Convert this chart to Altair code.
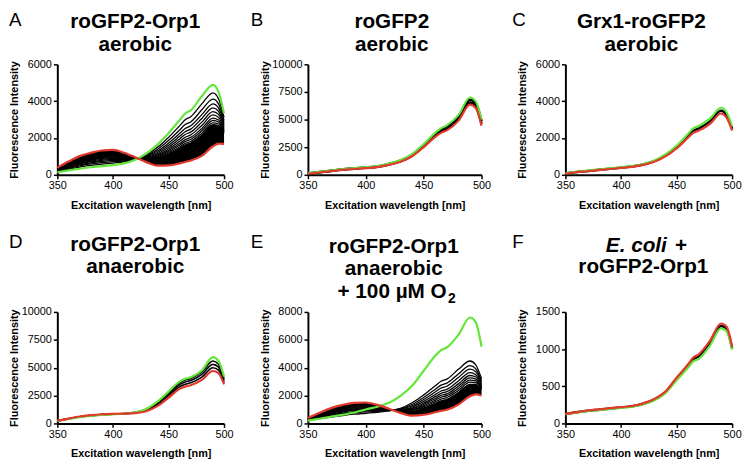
import altair as alt
import pandas as pd

# ---------------- data ----------------
WL = [350, 360, 370, 380, 390, 400, 410, 420, 430, 440, 450, 460, 465, 470, 480, 490, 495, 500]
XTICKS = [350, 400, 450, 500]

# A: roGFP2-Orp1 aerobic
A_green = [140, 240, 330, 410, 470, 530, 620, 820, 1150, 1640, 2260, 2970, 3330, 3500, 4270, 4880, 4500, 3330]
A_red = [390, 720, 1015, 1190, 1320, 1350, 1200, 960, 690, 500, 510, 620, 700, 780, 1030, 1550, 1690, 1680]
A_black = [
    [170, 300, 420, 510, 580, 640, 700, 840, 1090, 1490, 2030, 2660, 2990, 3150, 3850, 4450, 4130, 3120],
    [200, 350, 490, 590, 665, 720, 750, 850, 1040, 1380, 1860, 2430, 2730, 2870, 3530, 4110, 3850, 2950],
    [220, 390, 540, 650, 730, 780, 800, 860, 1010, 1290, 1720, 2240, 2510, 2660, 3270, 3850, 3630, 2820],
    [230, 420, 590, 700, 790, 840, 840, 870, 980, 1210, 1600, 2090, 2340, 2480, 3060, 3630, 3450, 2710],
    [250, 450, 630, 750, 840, 890, 870, 880, 950, 1140, 1500, 1950, 2190, 2320, 2860, 3430, 3280, 2610],
    [260, 480, 670, 790, 890, 930, 900, 890, 920, 1080, 1400, 1820, 2040, 2170, 2680, 3250, 3120, 2520],
    [280, 500, 700, 830, 930, 970, 930, 900, 900, 1020, 1320, 1700, 1910, 2030, 2520, 3080, 2980, 2440],
    [290, 520, 730, 860, 960, 1010, 960, 900, 880, 980, 1250, 1610, 1800, 1920, 2390, 2950, 2870, 2370],
    [300, 540, 760, 890, 1000, 1040, 980, 910, 860, 930, 1180, 1510, 1700, 1810, 2260, 2820, 2760, 2310],
    [300, 550, 780, 920, 1020, 1060, 1000, 910, 850, 900, 1120, 1440, 1620, 1730, 2160, 2720, 2670, 2260],
]

# B: roGFP2 aerobic
B_green = [150, 270, 390, 510, 600, 690, 790, 1010, 1330, 1880, 2780, 3800, 4200, 4480, 5400, 7000, 6650, 5000]
B_black = [
    [130, 250, 370, 500, 580, 670, 760, 980, 1280, 1820, 2700, 3700, 4090, 4370, 5250, 6800, 6450, 4850],
    [115, 230, 350, 470, 550, 630, 720, 930, 1220, 1740, 2580, 3540, 3910, 4140, 5030, 6550, 6200, 4600],
]
B_red = [100, 210, 330, 450, 530, 610, 700, 900, 1180, 1680, 2500, 3440, 3800, 4020, 4880, 6350, 6050, 4450]

# C: Grx1-roGFP2 aerobic
C_green = [80, 165, 230, 290, 350, 410, 470, 590, 780, 1110, 1580, 2200, 2520, 2650, 3050, 3640, 3400, 2620]
C_black = [[70, 150, 210, 270, 330, 390, 450, 560, 740, 1050, 1500, 2100, 2400, 2520, 2900, 3480, 3250, 2500]]
C_red = [60, 140, 195, 255, 315, 375, 435, 540, 710, 1000, 1430, 2000, 2280, 2400, 2770, 3330, 3110, 2400]

# D: roGFP2-Orp1 anaerobic
D_green = [230, 400, 560, 680, 760, 820, 870, 1000, 1300, 1950, 2850, 3750, 4000, 4150, 4750, 5950, 5600, 4200]
D_black = [
    [230, 410, 570, 690, 770, 830, 870, 990, 1270, 1890, 2770, 3650, 3900, 4040, 4630, 5600, 5300, 4000],
    [230, 415, 590, 710, 790, 840, 875, 970, 1220, 1780, 2620, 3480, 3720, 3850, 4400, 5300, 5050, 3850],
    [230, 420, 600, 725, 805, 850, 878, 950, 1160, 1660, 2460, 3290, 3510, 3640, 4150, 5000, 4780, 3680],
]
D_red = [230, 430, 620, 740, 820, 860, 880, 930, 1100, 1550, 2300, 3100, 3300, 3420, 3900, 4700, 4500, 3500]

# E: roGFP2-Orp1 anaerobic + 100 uM O2
E_green = [200, 340, 480, 620, 780, 1000, 1200, 1480, 1980, 2700, 3780, 4850, 5260, 5450, 6350, 7600, 7250, 5500]
E_red = [380, 760, 1100, 1330, 1480, 1500, 1330, 1060, 760, 560, 620, 800, 900, 980, 1350, 1950, 2080, 2000]
E_black = [
    [220, 340, 460, 570, 660, 730, 800, 900, 1080, 1480, 2050, 2700, 3030, 3180, 3880, 4480, 4200, 3200],
    [240, 390, 540, 670, 770, 830, 870, 920, 1040, 1360, 1860, 2450, 2750, 2890, 3550, 4150, 3920, 3040],
    [260, 440, 610, 740, 850, 910, 920, 940, 1010, 1270, 1720, 2260, 2540, 2670, 3300, 3900, 3710, 2920],
    [270, 480, 670, 820, 930, 980, 980, 950, 970, 1180, 1580, 2070, 2330, 2450, 3050, 3650, 3500, 2800],
    [290, 510, 720, 880, 1000, 1050, 1020, 970, 950, 1100, 1460, 1920, 2160, 2280, 2840, 3440, 3330, 2710],
    [300, 540, 770, 940, 1050, 1100, 1050, 980, 930, 1040, 1360, 1790, 2010, 2120, 2670, 3270, 3180, 2620],
    [310, 570, 810, 980, 1100, 1150, 1090, 990, 910, 980, 1280, 1670, 1880, 1990, 2510, 3110, 3060, 2550],
    [320, 590, 840, 1030, 1150, 1190, 1120, 1000, 890, 930, 1190, 1560, 1750, 1860, 2360, 2960, 2930, 2480],
    [330, 620, 880, 1070, 1200, 1240, 1150, 1010, 870, 870, 1110, 1450, 1620, 1730, 2210, 2810, 2800, 2410],
]

# F: E. coli + roGFP2-Orp1
F_green = [122, 147, 166, 180, 195, 210, 225, 258, 312, 408, 580, 745, 835, 870, 1045, 1280, 1240, 990]
F_black = [[125, 150, 170, 185, 200, 215, 230, 265, 320, 420, 600, 770, 860, 905, 1080, 1310, 1270, 1010]]
F_red = [128, 153, 174, 190, 205, 220, 235, 270, 328, 430, 615, 790, 885, 930, 1110, 1345, 1300, 1030]

Y_TICKS = {
    "A": [0, 2000, 4000, 6000],
    "B": [0, 2500, 5000, 7500, 10000],
    "C": [0, 2000, 4000, 6000],
    "D": [0, 2500, 5000, 7500, 10000],
    "E": [0, 2000, 4000, 6000, 8000],
    "F": [0, 500, 1000, 1500],
}

X_TITLE = "Excitation wavelength [nm]"
Y_TITLE = "Fluorescence Intensity"

# ---------------- styling ----------------
FONT = "Liberation Sans"
GREEN = "#62e639"
RED = "#e3392d"


def long_df(curves):
    rows = []
    for i, c in enumerate(curves):
        for w, v in zip(WL, c):
            rows.append({"wl": w, "v": v, "k": i})
    return pd.DataFrame(rows)


def txt(s, x, y, size, weight="bold", style="normal", align="center"):
    return alt.Chart(alt.Data(values=[{"a": 1}])).mark_text(
        text=s, font=FONT, fontSize=size, fontWeight=weight, fontStyle=style,
        align=align, baseline="alphabetic", color="black"
    ).encode(x=alt.value(x), y=alt.value(y))


def panel(green, blacks, red, ymax, yticks, width, height, texts, fill=None, black_width=1.3):
    xs = alt.Scale(domain=[350, 500], nice=False, zero=False)
    ys = alt.Scale(domain=[0, ymax], nice=False, zero=True)
    xax = alt.Axis(values=XTICKS, format="d", title=X_TITLE, titleY=34,
                   titleBaseline="alphabetic", labelFlush=False, labelOverlap=False)
    yax = alt.Axis(values=yticks, format="d", title=Y_TITLE, titleX=-40, titleY=height / 2,
                   titleBaseline="alphabetic", labelOverlap=False)
    X = alt.X("wl:Q", scale=xs, axis=xax)
    Y = alt.Y("v:Q", scale=ys, axis=yax)
    layers = []
    if fill is not None:
        fd = pd.DataFrame({"wl": WL, "v": red, "v2": fill})
        layers.append(alt.Chart(fd).mark_area(color="black", opacity=1, interpolate="monotone")
                      .encode(x=X, y=Y, y2="v2:Q"))
    layers.append(alt.Chart(long_df(blacks)).mark_line(color="black", strokeWidth=black_width,
                                                       interpolate="monotone")
                  .encode(x=X, y=Y, detail="k:N"))
    layers.append(alt.Chart(pd.DataFrame({"wl": WL, "v": green})).mark_line(
        color=GREEN, strokeWidth=2.2, interpolate="monotone").encode(x=X, y=Y))
    layers.append(alt.Chart(pd.DataFrame({"wl": WL, "v": red})).mark_line(
        color=RED, strokeWidth=2.2, interpolate="monotone").encode(x=X, y=Y))
    layers.extend(texts)
    return alt.layer(*layers).properties(width=width, height=height)


TS = 21  # title font size
LS = 19  # panel letter size

pA = panel(A_green, A_black, A_red, 6000, Y_TICKS["A"], 169, 112, [
    txt("A", -49, -39, LS, weight="normal", align="left"),
    txt("roGFP2-Orp1", 79, -37, TS),
    txt("aerobic", 79, -14, TS),
], fill=A_black[-1])

pB = panel(B_green, B_black, B_red, 10000, Y_TICKS["B"], 176, 112, [
    txt("B", -58, -39, LS, weight="normal", align="left"),
    txt("roGFP2", 85, -37, TS),
    txt("aerobic", 85, -14, TS),
], black_width=2.5)

pC = panel(C_green, C_black, C_red, 6000, Y_TICKS["C"], 169, 112, [
    txt("C", -54, -39, LS, weight="normal", align="left"),
    txt("Grx1-roGFP2", 77, -37, TS),
    txt("aerobic", 77, -14, TS),
], black_width=2.5)

pD = panel(D_green, D_black, D_red, 10000, Y_TICKS["D"], 169, 113, [
    txt("D", -49, -65, LS, weight="normal", align="left"),
    txt("roGFP2-Orp1", 79, -62, TS),
    txt("anaerobic", 79, -39, TS),
], black_width=1.6)

pE = panel(E_green, E_black, E_red, 8000, Y_TICKS["E"], 176, 113, [
    txt("E", -58, -65, LS, weight="normal", align="left"),
    txt("roGFP2-Orp1", 87, -60, TS),
    txt("anaerobic", 87, -37, TS),
    txt("+ 100 µM O", 30, -14, TS, align="left"),
    txt("2", 142, -9, 14, align="left"),
], fill=E_black[-1])

pF = panel(F_green, F_black, F_red, 1500, Y_TICKS["F"], 169, 113, [
    txt("F", -54, -65, LS, weight="normal", align="left"),
    txt("E. coli", 41, -61, TS, style="italic", align="left"),
    txt("+", 111, -61, TS, align="left"),
    txt("roGFP2-Orp1", 79, -39, TS),
], black_width=2.5)

chart = alt.concat(
    pA, pB, pC, pD, pE, pF,
    columns=3,
    spacing={"row": 139, "column": 85},
    bounds="flush",
    align="each",
).properties(
    padding=0
).configure_view(
    stroke=None
).configure_axis(
    domainColor="black", domainWidth=2, tickColor="black", tickWidth=1.5, tickSize=4,
    labelFont=FONT, labelFontSize=11, labelColor="black", labelPadding=2,
    titleFont=FONT, titleFontSize=11, titleFontWeight="bold", titleColor="black", grid=False,
).configure_axisX(
    labelPadding=1
)

chart.save("out.html", embed_options={"renderer": "svg", "actions": False})
